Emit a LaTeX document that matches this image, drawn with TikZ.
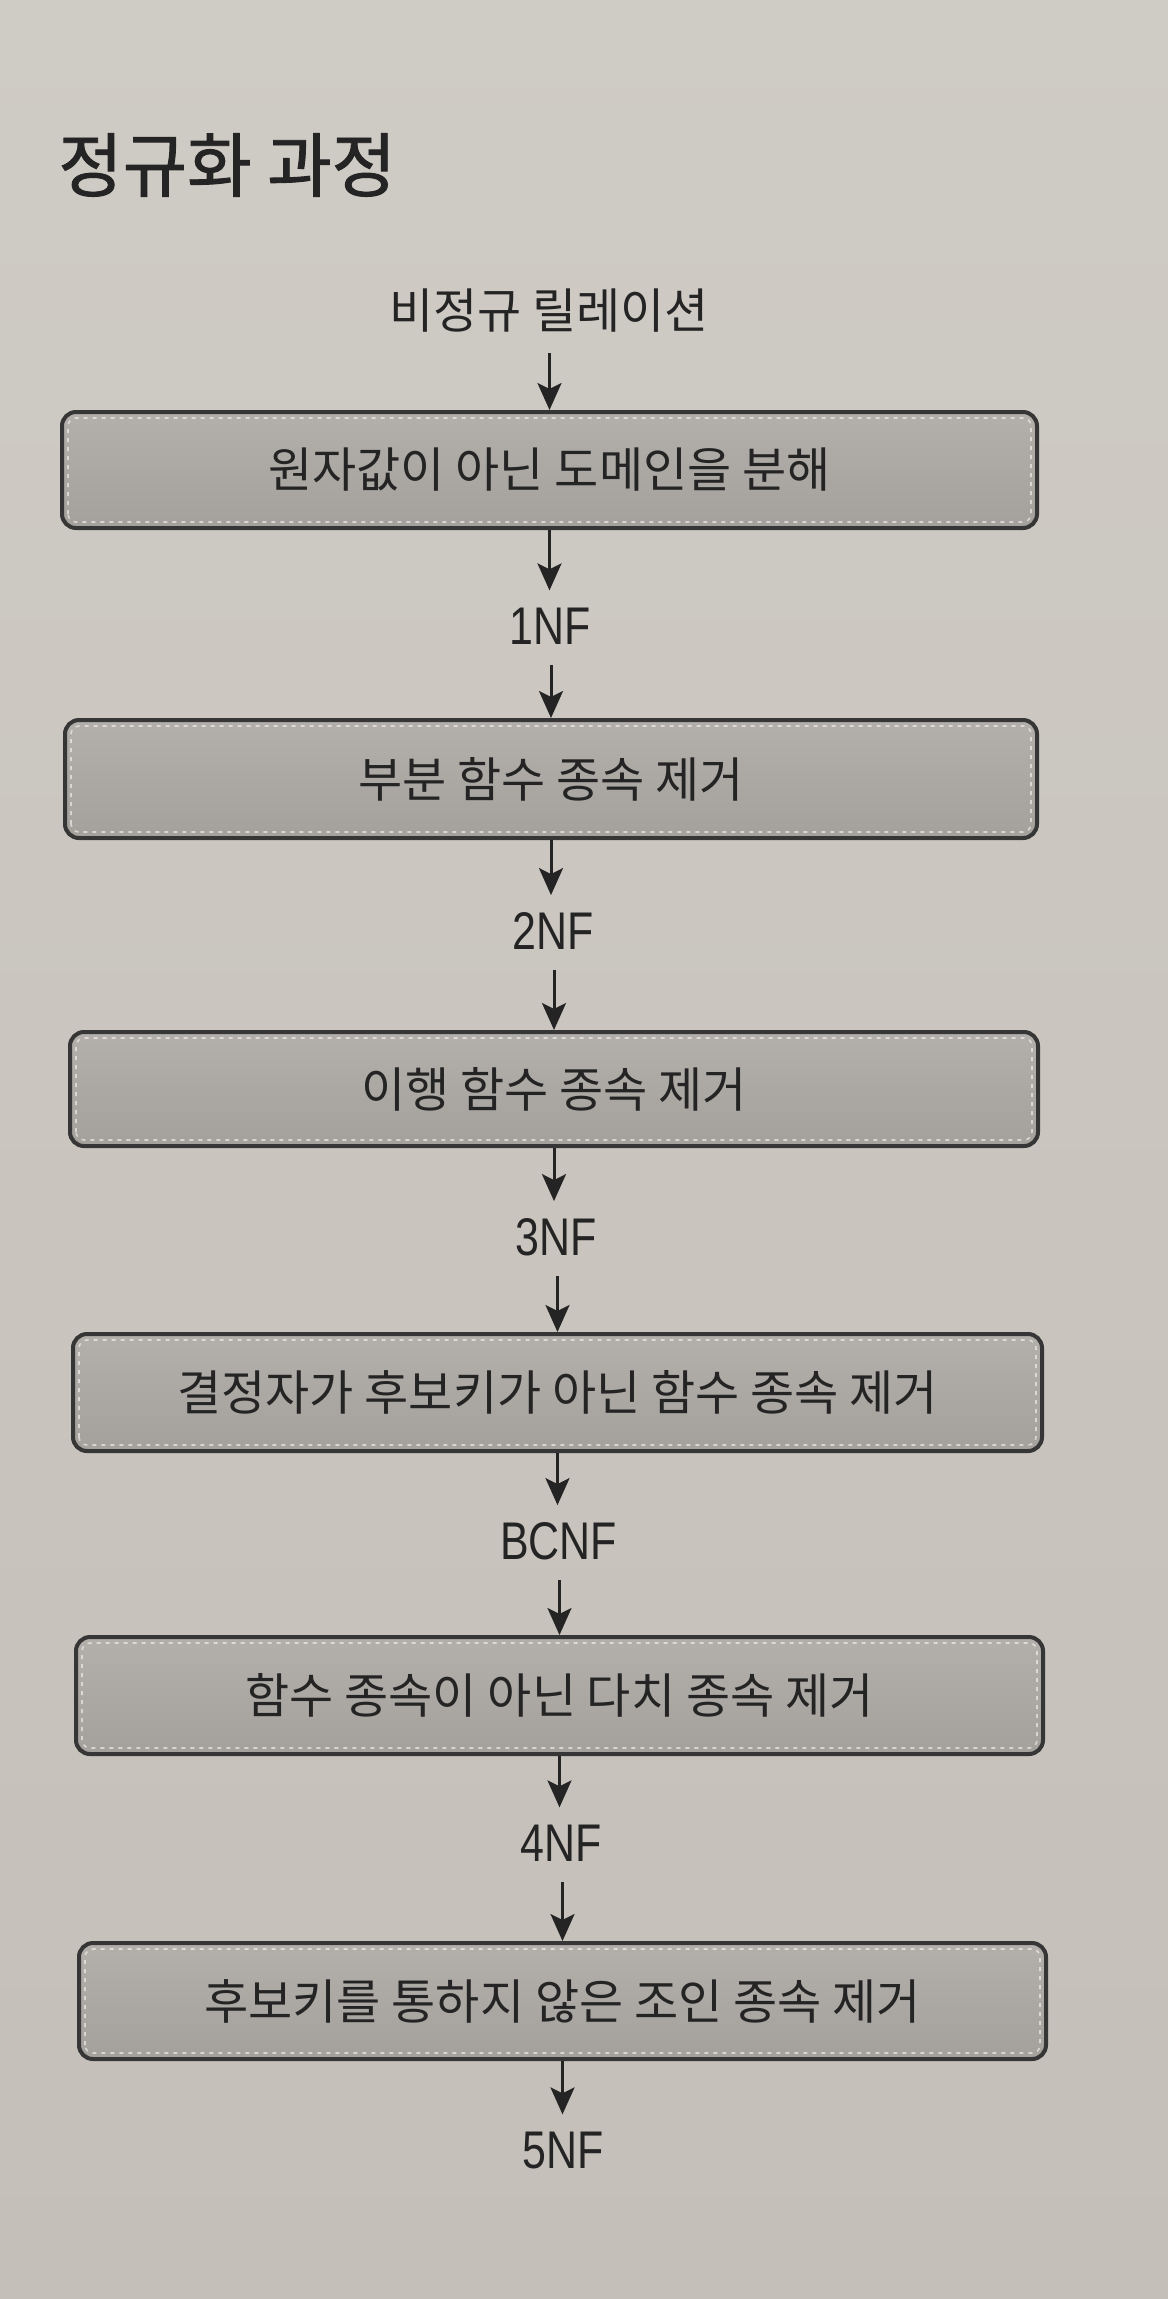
\documentclass[tikz,border=0pt]{standalone}
\usepackage{fontspec}
\setmainfont{Noto Sans CJK KR}
\newfontfamily\titlefont[FakeBold=1.3]{Noto Sans CJK KR}
\newfontfamily\latinlab[FakeStretch=0.81]{Liberation Sans}
\usetikzlibrary{arrows.meta}
\definecolor{bgtop}{HTML}{CFCBC5}
\definecolor{bgbot}{HTML}{C4BFB8}
\definecolor{boxtop}{HTML}{B3B0AC}
\definecolor{boxbot}{HTML}{A4A19D}
\definecolor{boxline}{HTML}{363636}
\definecolor{ink}{HTML}{242424}
\tikzset{
  stepbox/.style={rounded corners=7pt, draw=boxline, line width=2pt,
    top color=boxtop, bottom color=boxbot, inner sep=0pt, text=ink,
    font=\fontsize{24pt}{28pt}\selectfont},
  innerdash/.style={draw=white, draw opacity=0.55, line width=0.8pt,
    dash pattern=on 2pt off 2.5pt, rounded corners=4pt},
  krlab/.style={inner sep=0pt, text=ink, font=\fontsize{24pt}{28pt}\selectfont},
  nflab/.style={inner sep=0pt, text=ink, text depth=0pt,
    font=\latinlab\fontsize{26.5pt}{30pt}\selectfont},
  titlelab/.style={inner sep=0pt, text=ink, anchor=west,
    font=\titlefont\fontsize{35pt}{40pt}\selectfont},
  arr/.style={draw=ink, line width=1.5pt,
    -{Stealth[length=13.5pt, width=12pt, inset=3pt]}},
}
\begin{document}
\begin{tikzpicture}[x=0.5pt, y=-0.5pt]
  \useasboundingbox (0,0) rectangle (1168,2299);
  \shade[top color=bgtop, bottom color=bgbot] (0,0) rectangle (1168,2299);

  \node[titlelab] (title) at (58,165) {정규화 과정};

  \node[krlab] (l0) at (549,311) {비정규 릴레이션};

  \node[stepbox, minimum width=487.5pt, minimum height=58pt] (b1) at (549.5,470) {원자값이 아닌 도메인을 분해};
  \node[nflab] (l1) at (550,626) {1NF};
  \node[stepbox, minimum width=486pt, minimum height=59pt] (b2) at (551,779) {부분 함수 종속 제거};
  \node[nflab] (l2) at (553,931) {2NF};
  \node[stepbox, minimum width=484pt, minimum height=57pt] (b3) at (554,1089) {이행 함수 종속 제거};
  \node[nflab] (l3) at (556,1237) {3NF};
  \node[stepbox, minimum width=484.5pt, minimum height=58.5pt] (b4) at (557.5,1392.5) {결정자가 후보키가 아닌 함수 종속 제거};
  \node[nflab] (l4) at (558.5,1541) {BCNF};
  \node[stepbox, minimum width=483.5pt, minimum height=58.5pt] (b5) at (559.5,1695.5) {함수 종속이 아닌 다치 종속 제거};
  \node[nflab] (l5) at (561,1843) {4NF};
  \node[stepbox, minimum width=483.5pt, minimum height=58pt] (b6) at (562.5,2001) {후보키를 통하지 않은 조인 종속 제거};
  \node[nflab] (l6) at (563,2150) {5NF};

  \foreach \b in {b1,b2,b3,b4,b5,b6}{
    \draw[innerdash] ([xshift=4pt,yshift=4pt]\b.south west) rectangle ([xshift=-4pt,yshift=-4pt]\b.north east);
  }

  \draw[arr, shorten <=10pt] (b1.north |- l0.south) -- (b1.north);
  \draw[arr, shorten >=8.5pt] (b1.south) -- (b1.south |- l1.north);
  \draw[arr, shorten <=10pt] (b2.north |- l1.south) -- (b2.north);
  \draw[arr, shorten >=8.5pt] (b2.south) -- (b2.south |- l2.north);
  \draw[arr, shorten <=10pt] (b3.north |- l2.south) -- (b3.north);
  \draw[arr, shorten >=8.5pt] (b3.south) -- (b3.south |- l3.north);
  \draw[arr, shorten <=10pt] (b4.north |- l3.south) -- (b4.north);
  \draw[arr, shorten >=8.5pt] (b4.south) -- (b4.south |- l4.north);
  \draw[arr, shorten <=10pt] (b5.north |- l4.south) -- (b5.north);
  \draw[arr, shorten >=8.5pt] (b5.south) -- (b5.south |- l5.north);
  \draw[arr, shorten <=10pt] (b6.north |- l5.south) -- (b6.north);
  \draw[arr, shorten >=8.5pt] (b6.south) -- (b6.south |- l6.north);
\end{tikzpicture}
\end{document}
